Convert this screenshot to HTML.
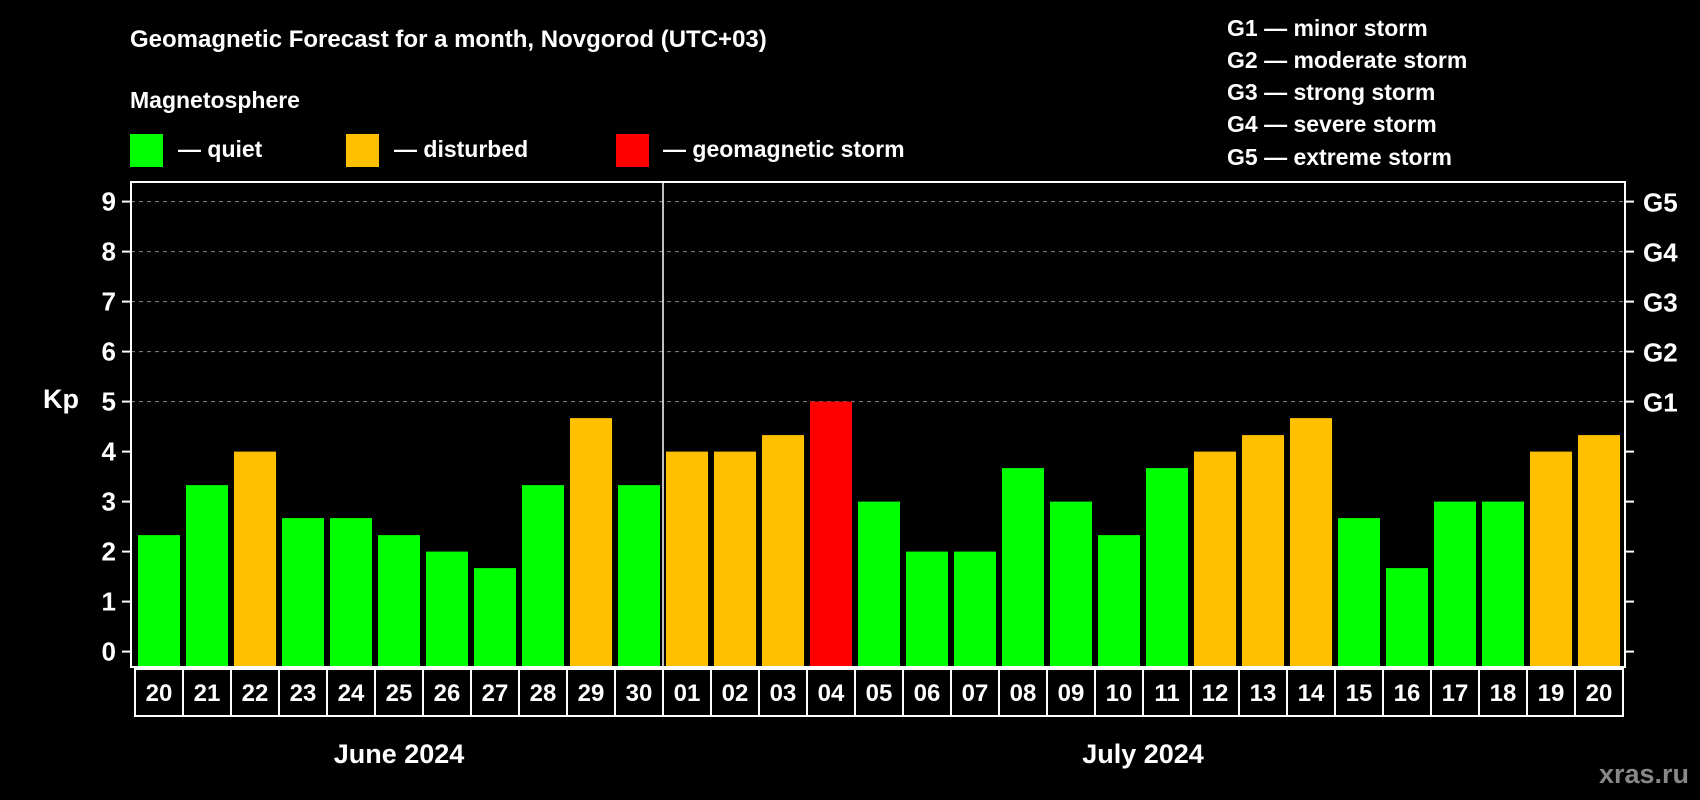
<!DOCTYPE html>
<html><head><meta charset="utf-8"><style>
html,body{margin:0;padding:0;background:#000;}
svg{display:block;font-family:"Liberation Sans",Arial,sans-serif;font-weight:bold;}
</style></head><body>
<svg id="chart" width="1700" height="800" viewBox="0 0 1700 800">
<rect width="1700" height="800" fill="#000"/>
<text x="130" y="47" fill="#fff" font-size="24">Geomagnetic Forecast for a month, Novgorod (UTC+03)</text>
<text x="130" y="108" fill="#fff" font-size="23">Magnetosphere</text>
<g><rect x="130" y="134" width="33" height="33" fill="#00ff00"/><text x="178" y="157" fill="#fff" font-size="23">— quiet</text></g>
<g><rect x="346" y="134" width="33" height="33" fill="#ffc000"/><text x="394" y="157" fill="#fff" font-size="23">— disturbed</text></g>
<g><rect x="616" y="134" width="33" height="33" fill="#ff0000"/><text x="663" y="157" fill="#fff" font-size="23">— geomagnetic storm</text></g>
<g fill="#fff" font-size="23">
<text x="1227" y="36">G1 — minor storm</text>
<text x="1227" y="68">G2 — moderate storm</text>
<text x="1227" y="100">G3 — strong storm</text>
<text x="1227" y="132">G4 — severe storm</text>
<text x="1227" y="165">G5 — extreme storm</text>
</g>
<text x="43" y="408" fill="#fff" font-size="27">Kp</text>
<text x="1689" y="783" fill="#888" font-size="27" text-anchor="end">xras.ru</text>
<g id="grid"></g><g id="bars"></g><g id="axes"></g>
</svg>
<script>
const days = ["20","21","22","23","24","25","26","27","28","29","30","01","02","03","04","05","06","07","08","09","10","11","12","13","14","15","16","17","18","19","20"];
const kp = [2.33,3.33,4,2.67,2.67,2.33,2,1.67,3.33,4.67,3.33,4,4,4.33,5,3,2,2,3.67,3,2.33,3.67,4,4.33,4.67,2.67,1.67,3,3,4,4.33];
const yTicks = [0,1,2,3,4,5,6,7,8,9];
const gLabels = ["G1","G2","G3","G4","G5"];
const months = ["June 2024","July 2024"];
const monthStart = [0,11];

const NS="http://www.w3.org/2000/svg";
const L=131,R=1625,T=182,B=667,slot0=135,slotW=48;
const y=v=>651.6-50*v;
const xs=i=>slot0+slotW*i;
function mk(tag,attrs,parent,txt){const e=document.createElementNS(NS,tag);for(const k in attrs)e.setAttribute(k,attrs[k]);if(txt!==undefined)e.textContent=txt;parent.appendChild(e);return e;}
const grid=document.getElementById('grid'),bars=document.getElementById('bars'),axes=document.getElementById('axes');
yTicks.forEach(t=>{
  if(t>=5){const g=mk('line',{x1:L,x2:R,y1:y(t),y2:y(t),stroke:'#888','stroke-dasharray':'4,4','stroke-width':1},grid);
  
  }
  const tl=mk('line',{x1:122,x2:L,y1:y(t),y2:y(t),stroke:'#fff','stroke-width':2},axes);
  
  
  const lb=mk('text',{x:116,y:y(t)+9,fill:'#fff','font-size':26,'text-anchor':'end'},axes,String(t));
  
  
  const tr=mk('line',{x1:R,x2:R+9,y1:y(t),y2:y(t),stroke:'#fff','stroke-width':2},axes);
  
  
});
gLabels.forEach((g,i)=>{
  const t=mk('text',{x:1643,y:y(5+i)+10,fill:'#fff','font-size':26},axes,g);
  
  
});
kp.forEach((v,i)=>{
  const c=v>=5?'#ff0000':(v>=4?'#ffc000':'#00ff00');
  const b=mk('rect',{x:xs(i)+3,y:y(v),width:42,height:B-y(v),fill:c},bars);
  
  
  const bx=mk('rect',{x:xs(i),y:669,width:slotW,height:47,fill:'none',stroke:'#fff','stroke-width':2},axes);
  
  
  const dl=mk('text',{x:xs(i)+slotW/2,y:701,fill:'#fff','font-size':24,'text-anchor':'middle'},axes,days[i]);
  
  
});
const fr=mk('rect',{x:L,y:T,width:R-L,height:B-T,fill:'none',stroke:'#fff','stroke-width':2},axes);


const dv=mk('line',{x1:xs(monthStart[1]),x2:xs(monthStart[1]),y1:T,y2:B,stroke:'#fff','stroke-width':1.5},axes);


months.forEach((m,i)=>{
  const s=monthStart[i],e=i+1<monthStart.length?monthStart[i+1]:days.length;
  const t=mk('text',{x:(xs(s)+xs(e))/2,y:763,fill:'#fff','font-size':27,'text-anchor':'middle'},axes,m);
  
  
});
</script>
</body></html>
